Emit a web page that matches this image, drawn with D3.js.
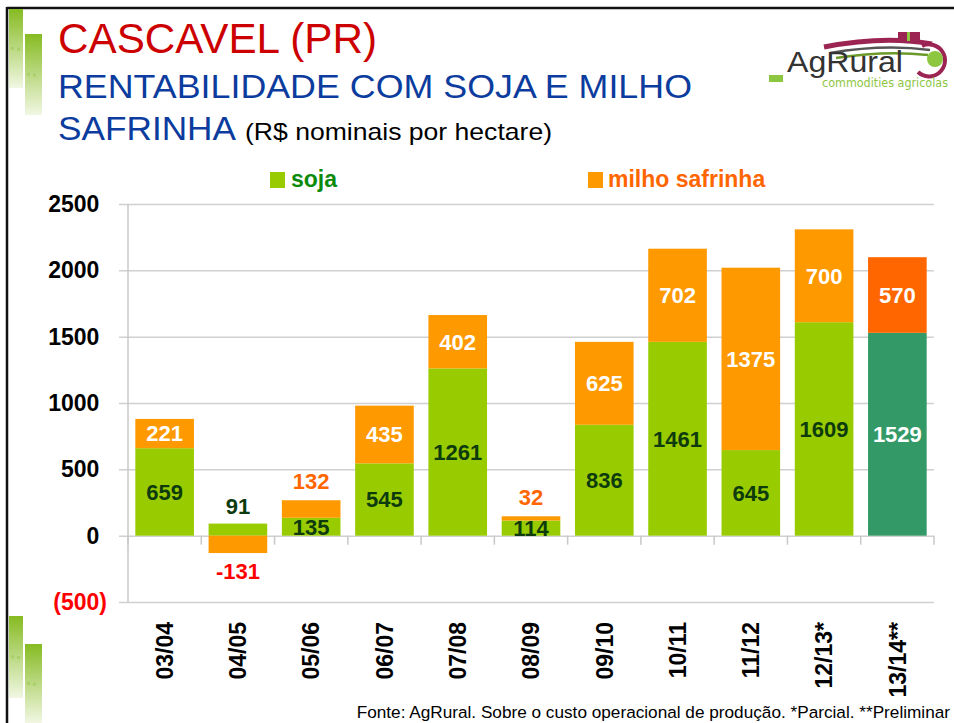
<!DOCTYPE html>
<html>
<head>
<meta charset="utf-8">
<script src="https://cdn.jsdelivr.net/npm/d3@7"></script>
<style>
  body { margin: 0; background: white; }
  text { font-family: "Liberation Sans", Arial, sans-serif; }
</style>
</head>
<body>
<div id="chart"></div>
<script>
// Cascavel (PR) - rentabilidade soja + milho safrinha

var safras = ["03/04", "04/05", "05/06", "06/07", "07/08", "08/09", "09/10", "10/11", "11/12", "12/13*", "13/14**"];
var soja   = [659, 91, 135, 545, 1261, 114, 836, 1461, 645, 1609, 1529];
var milho  = [221, -131, 132, 435, 402, 32, 625, 702, 1375, 700, 570];
var yTicks = [-500, 0, 500, 1000, 1500, 2000, 2500];
var preliminar = "13/14**";

var W = 954, H = 723;
var svg = d3.select("#chart").append("svg").attr("width", W).attr("height", H);
svg.append("rect").attr("width", W).attr("height", H).attr("fill", "white");

// ---- slide frame + green decoration
svg.append("line").attr("x1", 7).attr("x2", W).attr("y1", 8).attr("y2", 8).attr("stroke", "#111").attr("stroke-width", 2.5);
svg.append("line").attr("x1", 7).attr("x2", 7).attr("y1", 7).attr("y2", H).attr("stroke", "#111").attr("stroke-width", 2.5);

var defs = svg.append("defs");
var grad = defs.append("linearGradient").attr("id", "deco").attr("x1", 0).attr("x2", 0).attr("y1", 0).attr("y2", 1);
grad.append("stop").attr("offset", "0%").attr("stop-color", "#86bb22");
grad.append("stop").attr("offset", "100%").attr("stop-color", "#f1f7e3");

function Deco(x, y, w, h){
  svg.append("rect").attr("x", x).attr("y", y).attr("width", w).attr("height", h).attr("fill", "url(#deco)");
  svg.append("rect").attr("x", x + 2).attr("y", y + h*0.48).attr("width", 3).attr("height", 3).attr("fill", "#a9cf6a");
  svg.append("rect").attr("x", x + 8).attr("y", y + h*0.49).attr("width", 3).attr("height", 3).attr("fill", "#a9cf6a");
}
Deco(9, 9, 14, 79);
Deco(25, 34, 17, 81);
Deco(9, 616, 14, 82);
Deco(25, 644, 17, 79);

// ---- titles (textLength to match the slide's wider rendering)
function Title(x, yy, size, color, txt, len){
  return svg.append("text").attr("x", x).attr("y", yy).style("font-size", size).style("fill", color)
    .attr("textLength", len).attr("lengthAdjust", "spacingAndGlyphs").text(txt);
}
Title(58, 53, "42px", "#cc0000", "CASCAVEL (PR)", 319);
Title(58, 98, "34px", "#0b3c9e", "RENTABILIDADE COM SOJA E MILHO", 634);
Title(58, 140, "34px", "#0b3c9e", "SAFRINHA", 178);
Title(245, 140, "24px", "#000", "(R$ nominais por hectare)", 307);

// ---- logo (aproximado)
var logo = svg.append("g");
logo.append("path").attr("d", "M824,47 C860,40 900,38 932,44").attr("fill", "none").attr("stroke", "#9c2452").attr("stroke-width", 5);
logo.append("path").attr("d", "M830,53 C865,47 900,46 930,50").attr("fill", "none").attr("stroke", "#555").attr("stroke-width", 2.5);
logo.append("path").attr("d", "M836,58 C868,53 900,52 928,55").attr("fill", "none").attr("stroke", "#6b9a2a").attr("stroke-width", 2.5);
logo.append("rect").attr("x", 898).attr("y", 32).attr("width", 22).attr("height", 9).attr("fill", "#9c2452");
logo.append("rect").attr("x", 907).attr("y", 32).attr("width", 3).attr("height", 9).attr("fill", "#8dc63f");
logo.append("path").attr("d", "M922,46 A16,16 0 1,1 918,72").attr("fill", "none").attr("stroke", "#9c2452").attr("stroke-width", 4);
logo.append("circle").attr("cx", 935).attr("cy", 59).attr("r", 8).attr("fill", "#8dc63f");
logo.append("rect").attr("x", 769).attr("y", 75).attr("width", 14).attr("height", 7).attr("fill", "#8dc63f");
logo.append("text").attr("x", 787).attr("y", 72).style("font-size", "30px").style("fill", "#333")
  .attr("textLength", 116).attr("lengthAdjust", "spacingAndGlyphs").text("AgRural");
logo.append("text").attr("x", 822).attr("y", 87).style("font-size", "11.5px").style("fill", "#8dc63f").style("font-family", "DejaVu Sans, sans-serif")
  .attr("textLength", 126).attr("lengthAdjust", "spacingAndGlyphs").text("commodities agricolas");

// ---- legend
svg.append("rect").attr("x", 270).attr("y", 172).attr("width", 15).attr("height", 16).attr("fill", "#99cc00");
svg.append("text").attr("x", 291).attr("y", 187).style("font-size", "23px").style("font-weight", "bold").style("fill", "#0a8a0a").text("soja");
svg.append("rect").attr("x", 588).attr("y", 172).attr("width", 15).attr("height", 16).attr("fill", "#ff9900");
svg.append("text").attr("x", 608).attr("y", 187).style("font-size", "23px").style("font-weight", "bold").style("fill", "#ff6600").text("milho safrinha");

// ---- scales
var x = d3.scaleBand().domain(safras).range([128, 934]).paddingInner(0.2).paddingOuter(0.1);
var y = d3.scaleLinear().domain([-500, 2500]).range([602, 204]);

// gridlines + y labels
var yAxis = d3.axisLeft(y).tickValues(yTicks).tickSize(-(934 - 119)).tickPadding(12)
  .tickFormat(function(d){ return d < 0 ? "(" + Math.abs(d) + ")" : d; });
var gy = svg.append("g").attr("transform", "translate(119,0)").call(yAxis);
gy.select(".domain").remove();
gy.selectAll(".tick line").attr("stroke", "#d0d0d0").attr("stroke-width", 1.5);
gy.selectAll(".tick text")
  .attr("dx", function(d){ return d < 0 ? 0 : -7.7; })
  .style("font-size", "23px").style("font-weight", "bold").style("font-family", "Liberation Sans, Arial, sans-serif")
  .style("fill", function(d){ return d < 0 ? "#ff0000" : "#000"; });

svg.append("line").attr("x1", 128).attr("x2", 128).attr("y1", y(2500)).attr("y2", y(-500)).attr("stroke", "#c8c8c8").attr("stroke-width", 1.5);

// category ticks at band edges, below zero line
var step = x.step();
var edges = safras.map(function(c){ return x(c) - (step - x.bandwidth())/2; });
edges.push(edges[edges.length - 1] + step);
svg.selectAll(".ctick").data(edges).enter().append("line")
  .attr("x1", function(d){ return d; }).attr("x2", function(d){ return d; })
  .attr("y1", y(0)).attr("y2", y(0) + 9)
  .attr("stroke", "#c8c8c8").attr("stroke-width", 1.5);

// ---- bars
var rows = safras.map(function(c, i){ return {safra: c, soja: soja[i], milho: milho[i]}; });

function segSoja(d){ return [0, d.soja]; }
function segMilho(d){ return d.milho >= 0 ? [d.soja, d.soja + d.milho] : [0, d.milho]; }

var bars = svg.append("g");
bars.selectAll(".soja").data(rows).enter().append("rect")
  .attr("x", function(d){ return x(d.safra); }).attr("width", x.bandwidth())
  .attr("y", function(d){ return y(d3.max(segSoja(d))); })
  .attr("height", function(d){ var s = segSoja(d); return Math.abs(y(s[0]) - y(s[1])); })
  .attr("fill", function(d){ return d.safra == preliminar ? "#339966" : "#99cc00"; });
bars.selectAll(".milho").data(rows).enter().append("rect")
  .attr("x", function(d){ return x(d.safra); }).attr("width", x.bandwidth())
  .attr("y", function(d){ return y(d3.max(segMilho(d))); })
  .attr("height", function(d){ var s = segMilho(d); return Math.abs(y(s[0]) - y(s[1])); })
  .attr("fill", function(d){ return d.safra == preliminar ? "#ff6600" : "#ff9900"; });

// ---- data labels
var lbl = svg.append("g").style("font-size", "22px").style("font-weight", "bold").attr("text-anchor", "middle");

lbl.selectAll(".ls").data(rows).enter().append("text")
  .attr("x", function(d){ return x(d.safra) + x.bandwidth()/2; })
  .attr("y", function(d){
    if (d.milho < 0) return y(d.soja) - 18;
    return y(d.soja/2);
  })
  .attr("dy", "0.36em")
  .style("fill", function(d){ return d.safra == preliminar ? "#fff" : "#0d3b0d"; })
  .text(function(d){ return d.soja; });

lbl.selectAll(".lm").data(rows).enter().append("text")
  .attr("x", function(d){ return x(d.safra) + x.bandwidth()/2; })
  .attr("y", function(d){
    var s = segMilho(d);
    if (d.milho < 0) return y(d.milho) + 18;
    if (d.milho < 150) return y(s[1]) - 19;
    return y((s[0] + s[1])/2);
  })
  .attr("dy", "0.36em")
  .style("fill", function(d){
    if (d.milho < 0) return "#ff0000";
    if (d.milho < 150) return "#ff6600";
    return "#fff";
  })
  .text(function(d){ return d.milho; });

// ---- x labels (rotated)
svg.selectAll(".xl").data(safras).enter().append("text")
  .attr("transform", function(d){ return "translate(" + (x(d) + x.bandwidth()/2) + ",622)rotate(-90)"; })
  .attr("text-anchor", "end").attr("dy", "0.36em")
  .style("font-size", "23px").style("font-weight", "bold").style("fill", "#000")
  .text(function(d){ return d; });

// ---- source
svg.append("text").attr("x", 950).attr("y", 718).attr("text-anchor", "end")
  .style("font-size", "17.2px").style("fill", "#000")
  .text("Fonte: AgRural. Sobre o custo operacional de produção. *Parcial. **Preliminar");
</script>
</body>
</html>
